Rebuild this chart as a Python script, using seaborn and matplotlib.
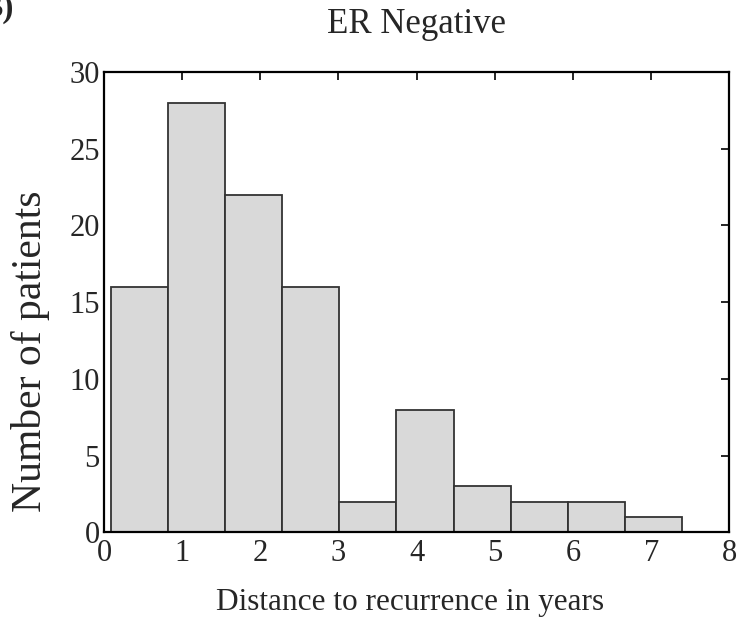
import matplotlib
matplotlib.use("Agg")
import matplotlib.pyplot as plt
import seaborn as sns
import numpy as np

# Data
bin_edges = [0.086, 0.817, 1.548, 2.279, 3.010, 3.742, 4.473, 5.204, 5.935, 6.666, 7.398]
counts = [16, 28, 22, 16, 2, 8, 3, 2, 2, 1]
x_ticks = [0, 1, 2, 3, 4, 5, 6, 7, 8]
y_ticks = [0, 5, 10, 15, 20, 25, 30]

sns.set_style("white")
plt.rcParams['font.family'] = ['Liberation Serif', 'DejaVu Serif']
plt.rcParams['mathtext.fontset'] = 'stix'

fig = plt.figure(figsize=(7.38, 6.19), dpi=100)
ax = fig.add_axes([0.1409, 0.14, 0.8473, 0.7437])

centers = [(bin_edges[i] + bin_edges[i + 1]) / 2 for i in range(len(counts))]
sns.histplot(x=centers, weights=counts, bins=bin_edges, ax=ax,
             color="#d9d9d9", edgecolor="#333333", linewidth=1.3, alpha=1)

ax.set_xlim(0, 8)
ax.set_ylim(0, 30)
ax.set_xticks(x_ticks)
ax.set_yticks(y_ticks)
ax.tick_params(direction='in', top=True, right=True, length=6, width=1.2,
               labelsize=22, color='black', pad=3)
ax.tick_params(axis='x', pad=5)
for s in ax.spines.values():
    s.set_linewidth(1.6)
    s.set_color('black')
    s.set_visible(True)

ax.set_xlabel("Distance to recurrence in years", fontsize=22.5, labelpad=14, x=0.49)
ax.set_ylabel("Number of patients", fontsize=30, labelpad=14, y=0.394)
ax.set_title("ER Negative", fontsize=25, pad=28)
fig.text(-0.027, 1.011, "B)", fontsize=24, fontweight='bold', va='top', ha='left')

fig.savefig("out.png", dpi=100)
